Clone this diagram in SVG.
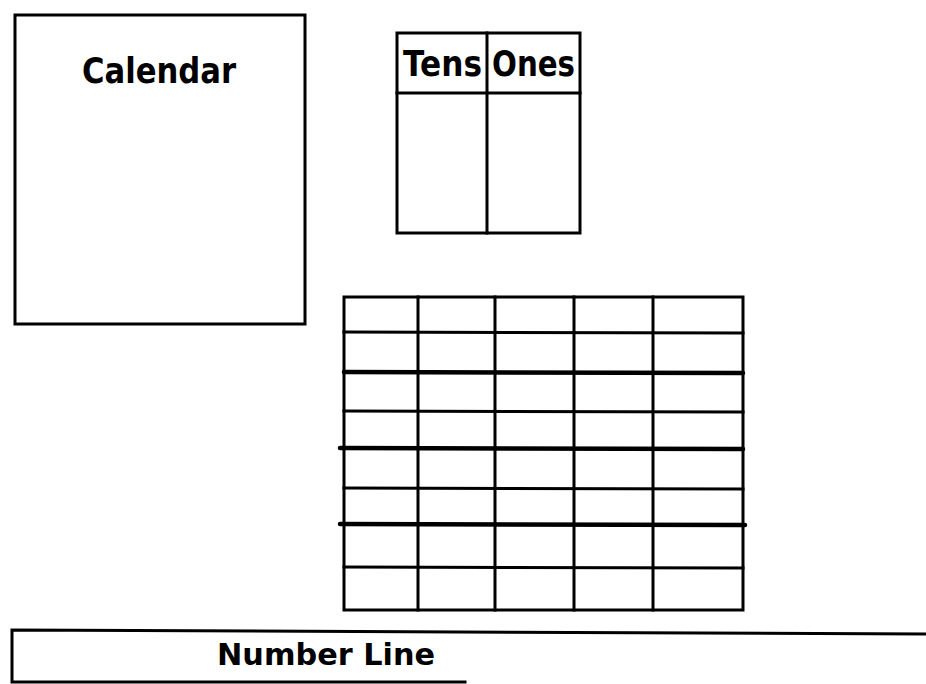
<svg xmlns="http://www.w3.org/2000/svg" width="926" height="684" viewBox="0 0 926 684">
  <style>
    .box { fill: none; stroke: #000; stroke-width: 3; }
    .ln { stroke: #000; stroke-width: 3; stroke-linecap: square; fill: none; }
    .thick { stroke: #000; stroke-width: 4.5; stroke-linecap: round; fill: none; }
    .lbl { font-family: "DejaVu Sans", "Liberation Sans", sans-serif; font-weight: bold; fill: #000; }
  </style>
  <rect width="926" height="684" fill="#fff"/>

  <g id="calendar">
    <rect class="box" x="15" y="15" width="290" height="309"/>
    <text class="lbl" x="82" y="83" font-size="36" textLength="154" lengthAdjust="spacingAndGlyphs">Calendar</text>
  </g>

  <g id="tens-ones">
    <rect class="box" x="397" y="33" width="183" height="200"/>
    <line class="ln" x1="397" y1="93" x2="580" y2="93"/>
    <line class="ln" x1="487" y1="33" x2="487" y2="233"/>
    <text class="lbl" x="403" y="76" font-size="36" textLength="79" lengthAdjust="spacingAndGlyphs">Tens</text>
    <text class="lbl" x="492" y="76" font-size="36" textLength="83" lengthAdjust="spacingAndGlyphs">Ones</text>
  </g>

  <g id="grid">
    <rect class="box" x="344" y="297" width="399" height="313"/>
    <line class="ln" x1="418" y1="297" x2="418" y2="610"/>
    <line class="ln" x1="495" y1="297" x2="495" y2="610"/>
    <line class="ln" x1="574" y1="297" x2="574" y2="610"/>
    <line class="ln" x1="653" y1="297" x2="653" y2="610"/>
    <line class="ln" x1="344" y1="332" x2="743" y2="333"/>
    <line class="thick" x1="344" y1="372" x2="743" y2="373"/>
    <line class="ln" x1="344" y1="411" x2="743" y2="412"/>
    <line class="thick" x1="340" y1="448" x2="743" y2="449"/>
    <line class="ln" x1="344" y1="488" x2="743" y2="489"/>
    <line class="thick" x1="340" y1="524" x2="745" y2="525"/>
    <line class="ln" x1="344" y1="567" x2="743" y2="568"/>
  </g>

  <g id="number-line">
    <polyline class="ln" points="926,634 12,630 12,682 465,682"/>
    <text class="lbl" x="217" y="665" font-size="30" textLength="218" lengthAdjust="spacingAndGlyphs">Number Line</text>
  </g>
</svg>
